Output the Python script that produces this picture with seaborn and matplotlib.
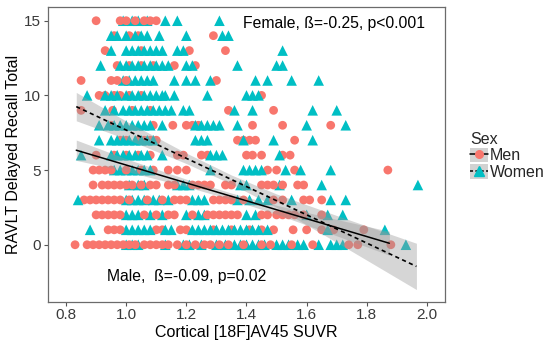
import itertools
import numpy as np
import pandas as pd
import matplotlib
matplotlib.use("Agg")
import matplotlib.pyplot as plt
from matplotlib.lines import Line2D
from matplotlib.patches import Patch
import seaborn as sns

# ---------------- data ----------------
recall_rows = list(range(16))

men_x = {
    15: [0.90, 0.98, 1.00, 1.03, 1.06, 1.08, 1.10],
    14: [0.96, 1.01, 1.04, 1.29],
    13: [0.93, 1.05, 1.21, 1.33],
    12: [0.97, 1.01, 1.05, 1.09, 1.16, 1.23],
    11: [0.85, 0.95, 0.97, 1.00, 1.30],
    10: [0.91, 0.93, 0.96, 0.98, 1.01, 1.05, 1.45],
    9: [0.85, 0.955, 1.02, 1.08, 1.34, 1.49],
    8: [0.95, 1.09, 1.155, 1.20, 1.22, 1.24, 1.42, 1.52, 1.68],
    7: [0.98, 1.00, 1.04, 1.06, 1.08, 1.10, 1.37, 1.39, 1.41, 1.43, 1.56],
    6: [0.90, 0.96, 1.00, 1.04, 1.08, 1.17, 1.19, 1.25, 1.27, 1.40, 1.42, 1.45, 1.52, 1.545],
    5: [0.89, 0.91, 0.93, 0.95, 1.00, 1.05, 1.09, 1.14, 1.17, 1.20, 1.47, 1.50, 1.56, 1.87],
    4: [0.89, 0.92, 0.94, 0.96, 0.98, 1.00, 1.02, 1.05, 1.08, 1.10, 1.14, 1.16, 1.22, 1.24,
        1.26, 1.28, 1.33, 1.35, 1.45, 1.47, 1.49, 1.52, 1.57, 1.59],
    3: [0.86, 0.88, 0.90, 0.92, 0.94, 0.96, 0.98, 1.01, 1.07, 1.12, 1.16, 1.18, 1.20, 1.29,
        1.31, 1.33, 1.35, 1.39, 1.49, 1.52, 1.59, 1.61, 1.65],
    2: [0.90, 0.92, 0.94, 0.96, 0.98, 1.06, 1.10, 1.14, 1.16, 1.22, 1.27, 1.29, 1.31, 1.33,
        1.35, 1.37, 1.45, 1.47, 1.50, 1.52, 1.54, 1.56, 1.59, 1.65],
    1: [0.94, 0.96, 0.98, 1.10, 1.12, 1.18, 1.20, 1.29, 1.35, 1.41, 1.45, 1.49, 1.555, 1.60,
        1.65, 1.69, 1.79],
    0: [0.83, 0.87, 0.89, 0.91, 0.93, 0.95, 0.97, 0.99, 1.01, 1.03, 1.06, 1.08, 1.10, 1.12,
        1.14, 1.17, 1.20, 1.23, 1.26, 1.28, 1.31, 1.34, 1.39, 1.45, 1.48, 1.55, 1.62, 1.74,
        1.77, 1.88],
}

women_x = {
    15: [0.99, 1.02, 1.04, 1.07, 1.13, 1.17, 1.31],
    14: [0.95, 0.97, 1.00, 1.03, 1.05, 1.07, 1.11, 1.20, 1.32, 1.34],
    13: [0.95, 1.00, 1.02, 1.04, 1.06, 1.08, 1.10, 1.12, 1.17, 1.19, 1.52],
    12: [0.915, 0.98, 1.00, 1.02, 1.04, 1.06, 1.08, 1.10, 1.12, 1.14, 1.20, 1.22, 1.37, 1.50, 1.52],
    11: [0.99, 1.01, 1.03, 1.05, 1.07, 1.09, 1.16, 1.20, 1.23, 1.28, 1.43, 1.47, 1.55, 1.64],
    10: [0.87, 0.93, 0.95, 0.97, 1.00, 1.02, 1.04, 1.06, 1.08, 1.10, 1.12, 1.13, 1.16, 1.27,
         1.40, 1.42, 1.44],
    9: [0.93, 0.96, 0.99, 1.01, 1.03, 1.05, 1.07, 1.09, 1.11, 1.13, 1.15, 1.19, 1.21, 1.36,
        1.42, 1.62, 1.70],
    8: [0.91, 0.94, 0.96, 0.98, 1.00, 1.02, 1.04, 1.06, 1.08, 1.12, 1.23, 1.25, 1.27, 1.29,
        1.31, 1.37, 1.60, 1.73],
    7: [0.91, 0.95, 0.97, 0.99, 1.01, 1.03, 1.05, 1.07, 1.09, 1.23, 1.25, 1.27, 1.39, 1.49, 1.62],
    6: [0.85, 0.95, 0.97, 0.99, 1.01, 1.03, 1.05, 1.07, 1.12, 1.28, 1.30, 1.32, 1.51],
    5: [0.96, 0.98, 1.00, 1.02, 1.04, 1.06, 1.08, 1.28, 1.39, 1.41, 1.43, 1.45, 1.53, 1.58, 1.68],
    4: [1.01, 1.04, 1.06, 1.17, 1.19, 1.21, 1.38, 1.40, 1.51, 1.65, 1.97],
    3: [0.84, 1.00, 1.02, 1.04, 1.06, 1.09, 1.11, 1.14, 1.22, 1.24, 1.26, 1.37, 1.41, 1.44,
        1.47, 1.55, 1.68, 1.73],
    2: [1.00, 1.02, 1.04, 1.08, 1.12, 1.20, 1.24, 1.26, 1.40, 1.43, 1.60, 1.67, 1.72],
    1: [0.88, 1.00, 1.02, 1.04, 1.06, 1.08, 1.13, 1.15, 1.22, 1.24, 1.26, 1.28, 1.30, 1.32,
        1.34, 1.36, 1.38, 1.40, 1.42, 1.44, 1.47, 1.67, 1.86],
    0: [1.00, 1.02, 1.04, 1.13, 1.19, 1.21, 1.25, 1.30, 1.33, 1.36, 1.38, 1.40, 1.42, 1.44,
        1.46, 1.50, 1.52, 1.54, 1.57, 1.59, 1.64, 1.68, 1.70, 1.72, 1.93],
}

# fitted regression lines and confidence band half-widths
men_fit_x = [0.834, 1.875]
men_fit_y = [6.33, 0.10]
men_band_x = [0.834, 1.0, 1.2, 1.35, 1.5, 1.7, 1.875]
men_band_hw = [0.68, 0.42, 0.25, 0.22, 0.30, 0.55, 0.80]

women_fit_x = [0.834, 1.965]
women_fit_y = [9.25, -1.45]
women_band_x = [0.834, 1.0, 1.2, 1.35, 1.5, 1.7, 1.965]
women_band_hw = [0.95, 0.60, 0.35, 0.30, 0.45, 0.90, 1.55]

x_ticks = [0.8, 1.0, 1.2, 1.4, 1.6, 1.8, 2.0]
y_ticks = [0, 5, 10, 15]
female_label = "Female, ß=-0.25, p<0.001"
male_label = "Male,  ß=-0.09, p=0.02"

PINK = "#F8766D"
TEAL = "#00BFC4"

# ---------------- build long table (interleaved so the overlaps mix) ----------------
records = []
for r in recall_rows:
    for m, w in itertools.zip_longest(men_x.get(r, []), women_x.get(r, [])):
        if m is not None:
            records.append({"x": m, "y": r, "Sex": "Men"})
        if w is not None:
            records.append({"x": w, "y": r, "Sex": "Women"})
df = pd.DataFrame(records)

# ---------------- figure ----------------
sns.set_style("white")
plt.rcParams["font.family"] = ["Liberation Sans", "DejaVu Sans"]

fig = plt.figure(figsize=(5.54, 3.45), dpi=100)
L, R, T, B = 48, 445, 7.3, 301.5
ax = fig.add_axes([L / 554, 1 - B / 345, (R - L) / 554, (B - T) / 345])

sns.scatterplot(data=df, x="x", y="y", hue="Sex", style="Sex", size="Sex",
                palette={"Men": PINK, "Women": TEAL},
                markers={"Men": "o", "Women": "^"},
                sizes={"Men": 40, "Women": 58},
                linewidth=0, legend=False, ax=ax, zorder=2)

# confidence bands
mb = np.array(men_band_x)
mc = np.interp(mb, men_fit_x, men_fit_y)
ax.fill_between(mb, mc - np.array(men_band_hw), mc + np.array(men_band_hw),
                color="#999999", alpha=0.4, linewidth=0, zorder=3)
wb = np.array(women_band_x)
wc = np.interp(wb, women_fit_x, women_fit_y)
ax.fill_between(wb, wc - np.array(women_band_hw), wc + np.array(women_band_hw),
                color="#999999", alpha=0.4, linewidth=0, zorder=3)

sns.lineplot(x=men_fit_x, y=men_fit_y, color="black", lw=1.1, ax=ax, zorder=4)
ax.plot(women_fit_x, women_fit_y, color="black", lw=1.2, ls=(0, (2.5, 2.0)), zorder=4)

ax.text(1.69, 14.8, female_label, ha="center", va="center", fontsize=11.3, color="black")
ax.text(1.2, -2.15, male_label, ha="center", va="center", fontsize=11.3, color="black")

ax.set_xlim(0.74, 2.06)
ax.set_ylim(-3.8, 15.9)
ax.set_xticks(x_ticks)
ax.set_xticklabels([f"{t:.1f}" for t in x_ticks])
ax.set_yticks(y_ticks)
ax.set_xlabel("Cortical [18F]AV45 SUVR", fontsize=11.5, color="black", labelpad=1.5)
ax.set_ylabel("RAVLT Delayed Recall Total", fontsize=11.5, color="black", labelpad=2)
ax.tick_params(axis="both", which="both", direction="out", length=3, width=0.8,
               color="#555555", labelsize=11, labelcolor="#3a3a3a", pad=2,
               bottom=True, left=True)
for sp in ax.spines.values():
    sp.set_color("#6b6b6b")
    sp.set_linewidth(0.9)
ax.grid(False)

# legend
key_bg = "#D2D2D2"
h_men = (Patch(facecolor=key_bg, edgecolor="none"),
         Line2D([], [], color="black", lw=1.1, marker="o", markersize=5.5,
                markerfacecolor=PINK, markeredgecolor=PINK))
h_women = (Patch(facecolor=key_bg, edgecolor="none"),
           Line2D([], [], color="black", lw=1.1, ls=(0, (2, 1.5)), marker="^", markersize=6.5,
                  markerfacecolor=TEAL, markeredgecolor=TEAL))
leg = fig.legend([h_men, h_women], ["Men", "Women"], title="Sex",
                 loc="upper left", bbox_to_anchor=(470 / 554, 1 - 132 / 345),
                 frameon=False, fontsize=11.5, title_fontsize=11.5,
                 handlelength=1.1, handleheight=1.0, handletextpad=0.15,
                 labelspacing=0.05, borderpad=0, borderaxespad=0, alignment="left")

fig.savefig("out.png", dpi=100)
